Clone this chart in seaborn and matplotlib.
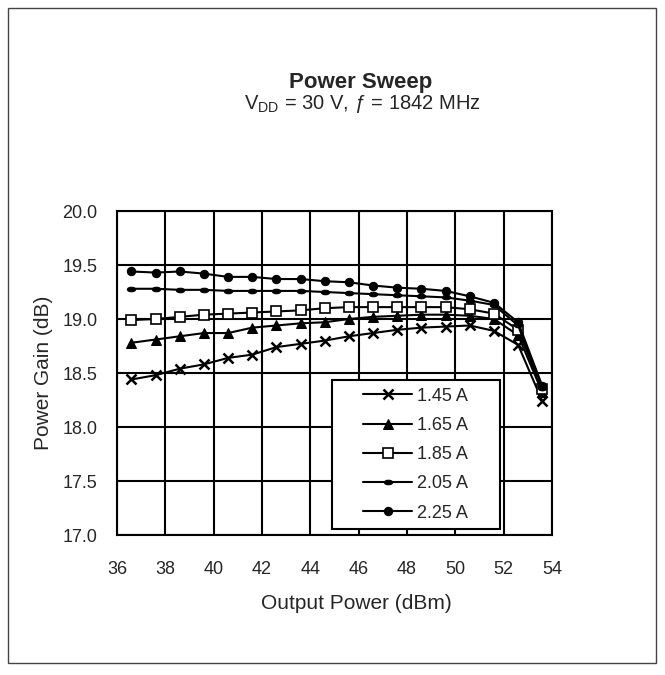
import numpy as np
import pandas as pd
import matplotlib
matplotlib.use('Agg')
import matplotlib.pyplot as plt
from matplotlib.patches import Rectangle
from matplotlib.path import Path
from matplotlib.transforms import Affine2D
import seaborn as sns

# data
pout = [36.6, 37.6, 38.6, 39.6, 40.6, 41.6, 42.6, 43.6, 44.6, 45.6,
        46.6, 47.6, 48.6, 49.6, 50.6, 51.6, 52.6, 53.6]
gain_145 = [18.44, 18.48, 18.54, 18.58, 18.64, 18.67, 18.74, 18.77, 18.80, 18.84,
            18.87, 18.90, 18.92, 18.93, 18.94, 18.89, 18.76, 18.24]
gain_165 = [18.78, 18.81, 18.84, 18.87, 18.87, 18.92, 18.94, 18.96, 18.97, 19.00,
            19.02, 19.03, 19.04, 19.04, 19.03, 19.00, 18.85, 18.32]
gain_185 = [18.99, 19.00, 19.02, 19.04, 19.05, 19.06, 19.07, 19.08, 19.10, 19.11,
            19.11, 19.11, 19.11, 19.11, 19.09, 19.05, 18.90, 18.35]
gain_205 = [19.28, 19.28, 19.27, 19.27, 19.26, 19.26, 19.26, 19.26, 19.25, 19.24,
            19.23, 19.22, 19.21, 19.20, 19.17, 19.13, 18.94, 18.36]
gain_225 = [19.44, 19.43, 19.44, 19.42, 19.39, 19.39, 19.37, 19.37, 19.35, 19.34,
            19.31, 19.29, 19.28, 19.26, 19.21, 19.15, 18.97, 18.38]
labels = ['1.45 A', '1.65 A', '1.85 A', '2.05 A', '2.25 A']

sns.set_style('white')
plt.rcParams['font.family'] = ['Liberation Sans', 'DejaVu Sans']
plt.rcParams['mathtext.fontset'] = 'custom'
plt.rcParams['mathtext.rm'] = 'Liberation Sans'
plt.rcParams['mathtext.it'] = 'Liberation Sans:italic'

fig = plt.figure(figsize=(6.65, 6.75), dpi=100)
fig.patches.append(Rectangle((0.012, 0.018), 0.974, 0.97, transform=fig.transFigure,
                             fill=False, edgecolor='#444444', linewidth=1.0))
ax = fig.add_axes([0.1759, 0.2074, 0.6541, 0.48])

# flat ellipse marker for the 2.05 A curve
flat_dot = Path.unit_circle().transformed(Affine2D().scale(1.0, 0.55))

styles = {
    '1.45 A': dict(marker='x', markersize=7, markeredgewidth=1.8),
    '1.65 A': dict(marker='^', markersize=6.5, markerfacecolor='black'),
    '1.85 A': dict(marker='s', markersize=7, markerfacecolor='white', markeredgewidth=1.2),
    '2.05 A': dict(marker=flat_dot, markersize=6, markerfacecolor='black'),
    '2.25 A': dict(marker='o', markersize=6, markerfacecolor='black'),
}
series = [gain_145, gain_165, gain_185, gain_205, gain_225]
for lab, g in zip(labels, series):
    df = pd.DataFrame({'Pout': pout, 'Gain': g})
    sns.lineplot(data=df, x='Pout', y='Gain', ax=ax, color='black', linewidth=1.5,
                 markeredgecolor='black', label=lab, **styles[lab])

ax.set_xlim(36, 54)
ax.set_ylim(17.0, 20.0)
ax.set_xticks(np.arange(36, 55, 2))
ax.set_yticks(np.arange(17.0, 20.01, 0.5))
ax.set_yticklabels([f'{v:.1f}' for v in np.arange(17.0, 20.01, 0.5)])
ax.grid(True, color='black', linewidth=1.5)
for s in ax.spines.values():
    s.set_color('black')
    s.set_linewidth(1.5)
ax.tick_params(axis='both', length=0, labelsize=13)
ax.tick_params(axis='x', pad=19)
ax.tick_params(axis='y', pad=14)
ax.set_xlabel('Output Power (dBm)', fontsize=15)
ax.xaxis.set_label_coords(0.55, -0.183)
ax.set_ylabel('Power Gain (dB)', fontsize=15, labelpad=7)

# legend box drawn as a patch, legend content centered inside
ax.add_patch(Rectangle((0.494, 0.0185), 0.386, 0.46, transform=ax.transAxes,
                       facecolor='white', edgecolor='black', linewidth=1.5, zorder=4))
leg = ax.legend(loc='center', bbox_to_anchor=(0.687, 0.248), fontsize=13,
                frameon=False, handlelength=2.67, labelspacing=0.68,
                borderpad=0, borderaxespad=0, handletextpad=0.3)
leg.set_zorder(5)

fig.text(0.543, 0.878, 'Power Sweep', ha='center', va='center', fontsize=16, fontweight='bold')
fig.text(0.545, 0.846, r'V$_{\mathrm{DD}}$ = 30 V, ƒ = 1842 MHz', ha='center', va='center',
         fontsize=14.5)

plt.savefig('out.png', dpi=100)
